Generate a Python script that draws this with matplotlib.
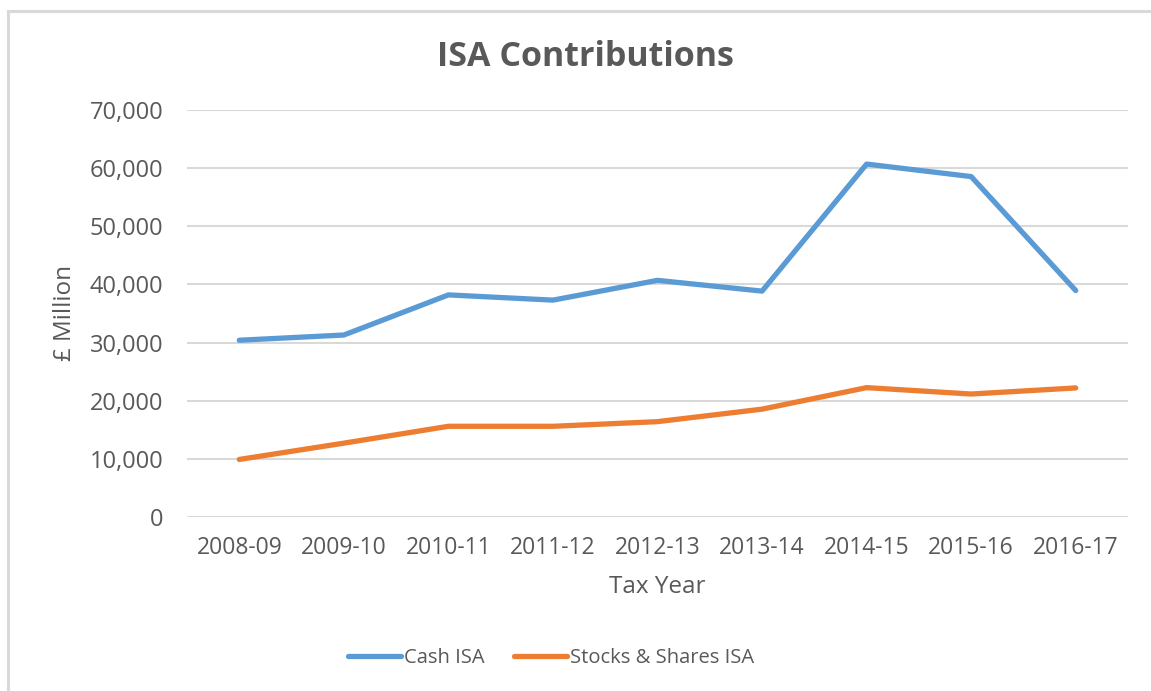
import matplotlib.pyplot as plt
from matplotlib.lines import Line2D

plt.rcParams['font.family'] = ['Open Sans', 'DejaVu Sans']

years = ['2008-09', '2009-10', '2010-11', '2011-12', '2012-13',
         '2013-14', '2014-15', '2015-16', '2016-17']
cash_isa = [30400, 31300, 38200, 37300, 40700, 38850, 60700, 58550, 38950]
stocks_isa = [9900, 12700, 15600, 15600, 16400, 18550, 22250, 21150, 22200]

text_col = '#595959'
grid_col = '#D9D9D9'
W, H = 1151, 691

fig = plt.figure(figsize=(W / 100, H / 100), dpi=100)
ax = fig.add_axes([187 / W, 1 - 517 / H, (1128 - 187) / W, (517 - 110) / H])

x = range(len(years))
ax.plot(x, cash_isa, color='#5B9BD5', lw=3.8, solid_capstyle='round',
        solid_joinstyle='round', label='Cash ISA', zorder=3)
ax.plot(x, stocks_isa, color='#ED7D31', lw=3.8, solid_capstyle='round',
        solid_joinstyle='round', label='Stocks & Shares ISA', zorder=3)

ax.set_xlim(-0.5, len(years) - 0.5)
ax.set_ylim(0, 70000)
ax.set_yticks(range(0, 70001, 10000))
ax.set_yticklabels([f'{v:,}' for v in range(0, 70001, 10000)])
ax.set_xticks(list(x))
ax.set_xticklabels(years)

ax.grid(axis='y', color=grid_col, lw=1.5)
ax.set_axisbelow(True)
for s in ax.spines.values():
    s.set_visible(False)
ax.tick_params(length=0, colors=text_col)
ax.tick_params(axis='y', pad=17, labelsize=17)
ax.tick_params(axis='x', pad=14, labelsize=16.5)

fig.text(585 / W, 1 - 57 / H, 'ISA Contributions', ha='center', va='center',
         fontsize=24.5, fontweight='bold', color=text_col)
fig.text(65 / W, 1 - 313 / H, '£ Million', ha='center', va='center',
         rotation=90, fontsize=17.5, color=text_col)
fig.text(657 / W, 1 - 587 / H, 'Tax Year', ha='center', va='center',
         fontsize=17.5, color=text_col)

fig.legend(loc='center', bbox_to_anchor=(551 / W, 1 - 658 / H), ncol=2,
           frameon=False, fontsize=14.5, labelcolor=text_col,
           handlelength=2.6, handletextpad=0.15, columnspacing=1.5)

# chart border (top and left edges visible)
fig.add_artist(Line2D([8 / W, 1], [1 - 11 / H, 1 - 11 / H], color=grid_col, lw=2.2))
fig.add_artist(Line2D([8 / W, 8 / W], [0, 1 - 11 / H], color=grid_col, lw=2.2))

fig.savefig('out.png', dpi=100)
